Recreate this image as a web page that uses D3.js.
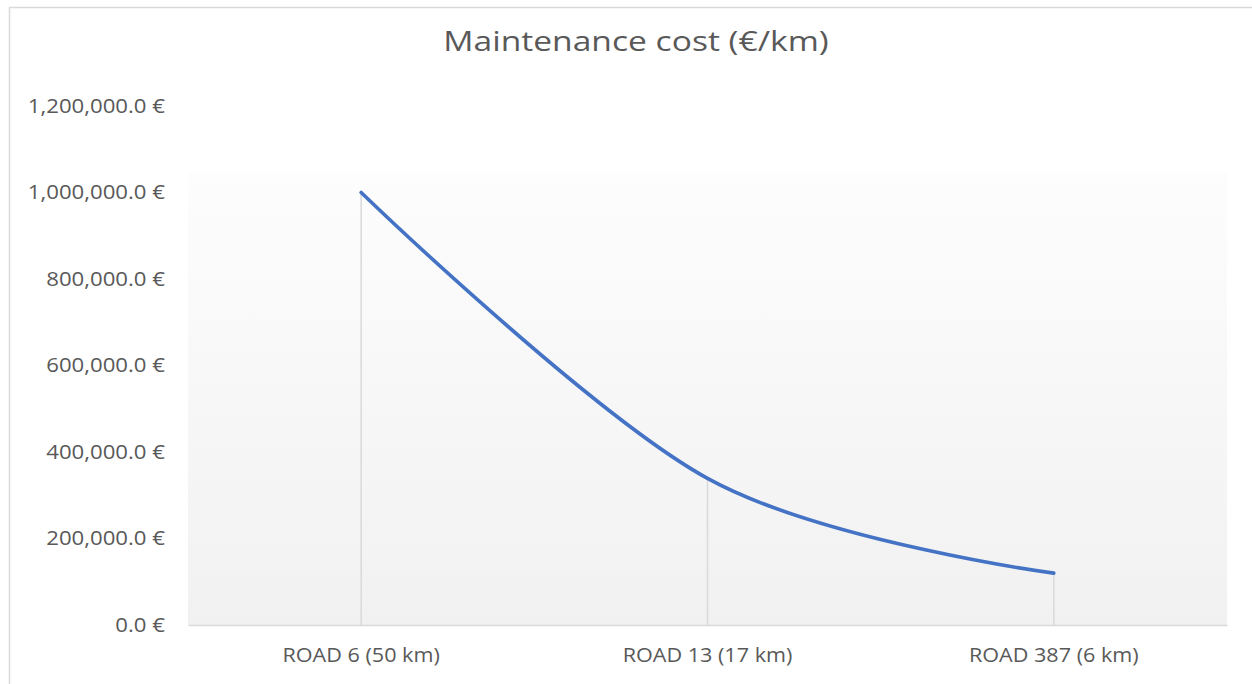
<!DOCTYPE html>
<html>
<head>
<meta charset="utf-8">
<script src="https://cdn.jsdelivr.net/npm/d3@7"></script>
<style>
  html, body { margin: 0; padding: 0; background: #fff; }
  svg { display: block; font-family: "Open Sans", sans-serif; }
</style>
</head>
<body>
<div id="chart"></div>
<script>
(() => {
  const title = "Maintenance cost (€/km)";
  const roads = ["ROAD 6 (50 km)", "ROAD 13 (17 km)", "ROAD 387 (6 km)"];
  const costPerKm = [1000000, 339000, 120000];
  const yTicks = [0, 200000, 400000, 600000, 800000, 1000000, 1200000];

  const width = 1252;
  const height = 684;
  const plot = { left: 188, right: 1227, top: 106, bottom: 625, fillTop: 172 };
  const textColor = "#595959";
  const gridColor = "#d9d9d9";
  // Open Sans is a bit narrower than the original Calibri-ish face, widen it
  const stretch = { title: 1.2, y: 1.11, x: 1.08 };

  const fmt = d3.format(",.1f");

  const svg = d3.select("#chart").append("svg")
    .attr("width", width)
    .attr("height", height);

  const grad = svg.append("defs").append("linearGradient")
    .attr("id", "plotFill")
    .attr("x1", 0).attr("y1", 0).attr("x2", 0).attr("y2", 1);
  grad.append("stop").attr("offset", "0%").attr("stop-color", "#fdfdfd");
  grad.append("stop").attr("offset", "100%").attr("stop-color", "#f1f1f1");

  // chart area border (runs off the right and bottom of the frame)
  svg.append("rect")
    .attr("x", 9.5).attr("y", 7.5)
    .attr("width", 1300).attr("height", 700)
    .attr("fill", "#fff")
    .attr("stroke", gridColor)
    .attr("stroke-width", 1.5);

  const x = d3.scaleBand().domain(roads).range([plot.left, plot.right]);
  const y = d3.scaleLinear().domain([0, 1200000]).range([plot.bottom, plot.top]);
  const cx = (d) => x(d) + x.bandwidth() / 2;

  svg.append("rect")
    .attr("x", plot.left)
    .attr("y", plot.fillTop)
    .attr("width", plot.right - plot.left)
    .attr("height", plot.bottom - plot.fillTop)
    .attr("fill", "url(#plotFill)");

  svg.append("text")
    .attr("transform", `translate(636,51) scale(${stretch.title},1)`)
    .attr("text-anchor", "middle")
    .attr("fill", textColor)
    .attr("font-size", 28)
    .text(title);

  // y axis labels
  const yPad = 23;
  const yAxis = svg.append("g")
    .attr("transform", `translate(${plot.left},0)`)
    .call(d3.axisLeft(y).tickValues(yTicks).tickSize(0).tickPadding(yPad)
      .tickFormat((d) => `${fmt(d)} €`));
  yAxis.select(".domain").remove();
  yAxis.selectAll("text")
    .attr("x", 0)
    .attr("transform", `translate(${-yPad},0) scale(${stretch.y},1)`)
    .attr("fill", textColor)
    .attr("font-size", 20)
    .attr("font-family", "Open Sans, sans-serif");

  const points = roads.map((r, i) => ({ road: r, value: costPerKm[i] }));

  // drop lines
  svg.append("g").selectAll("line")
    .data(points).join("line")
    .attr("x1", (d) => cx(d.road)).attr("x2", (d) => cx(d.road))
    .attr("y1", (d) => y(d.value)).attr("y2", plot.bottom)
    .attr("stroke", gridColor)
    .attr("stroke-width", 1.5);

  // x axis
  const xAxis = svg.append("g")
    .attr("transform", `translate(0,${plot.bottom})`)
    .call(d3.axisBottom(x).tickSize(0).tickPadding(22.5));
  xAxis.select(".domain")
    .attr("stroke", gridColor)
    .attr("stroke-width", 1.5);
  xAxis.selectAll("text")
    .attr("transform", `scale(${stretch.x},1)`)
    .attr("fill", textColor)
    .attr("font-size", 20)
    .attr("font-family", "Open Sans, sans-serif");

  const line = d3.line()
    .x((d) => cx(d.road))
    .y((d) => y(d.value))
    .curve(d3.curveCardinal.tension(0));

  svg.append("path")
    .datum(points)
    .attr("d", line)
    .attr("fill", "none")
    .attr("stroke", "#4472C4")
    .attr("stroke-width", 3.6)
    .attr("stroke-linecap", "round");
})();
</script>
</body>
</html>
